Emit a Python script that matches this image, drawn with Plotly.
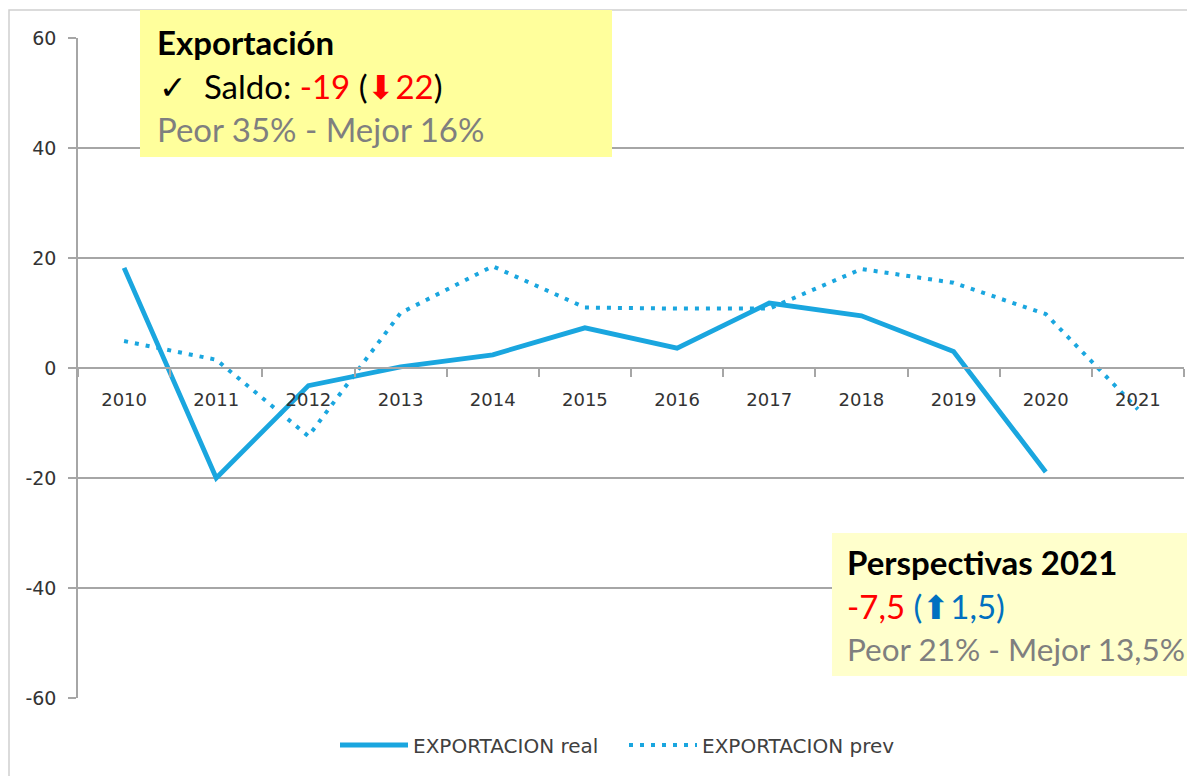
import plotly.graph_objects as go

years = ["2010", "2011", "2012", "2013", "2014", "2015", "2016", "2017", "2018", "2019", "2020", "2021"]
real = [18.2, -20.0, -3.2, 0.2, 2.4, 7.3, 3.6, 11.8, 9.5, 3.0, -18.9, None]
prev = [4.9, 1.5, -12.4, 10.0, 18.5, 11.0, 10.8, 10.8, 18.0, 15.5, 9.8, -7.5]
yticks = [-60, -40, -20, 0, 20, 40, 60]
ytick_text = ["-60", "-40", "-20", "0", "20", "40", "60"]

# page offset (body margin) and figure geometry
OFF = 8
W, H = 1195, 776
L, T = 70, 30
PR, PB = 1176, 690          # plot right / bottom in figure pixels
R, B = W - PR, H - PB
PW, PH = PR - L, PB - T

def px(x):
    return (x - OFF - L) / PW

def py(y):
    return (PB - (y - OFF)) / PH

BLUE = "#1aa6df"
GRID = "#a6a6a6"
X_FONT = dict(family="DejaVu Sans", size=18, color="#333333")
Y_FONT = dict(family="DejaVu Sans", size=19, color="#333333")
BOX_FONT = "Lato"

fig = go.Figure()
fig.add_trace(go.Scatter(x=years, y=real, mode="lines", name="EXPORTACION real",
                         line=dict(color=BLUE, width=4.8)))
fig.add_trace(go.Scatter(x=years, y=prev, mode="lines", name="EXPORTACION prev",
                         line=dict(color=BLUE, width=4, dash="4px,7px")))

shapes = [
    dict(type="rect", xref="paper", yref="paper", x0=px(9), x1=px(1230), y0=py(10), y1=py(800),
         line=dict(color="#cfcfcf", width=1.5), fillcolor="rgba(0,0,0,0)", layer="below"),
    dict(type="rect", xref="paper", yref="paper", x0=px(140), x1=px(612), y0=py(10), y1=py(157),
         line=dict(width=0), fillcolor="#ffff9c", layer="above"),
    dict(type="rect", xref="paper", yref="paper", x0=px(832), x1=px(1230), y0=py(533), y1=py(676),
         line=dict(width=0), fillcolor="#ffffcc", layer="above"),
]

def note(x, y, text, size, color="black"):
    return dict(xref="paper", yref="paper", x=px(x), y=py(y), text=text, showarrow=False,
                xanchor="left", yanchor="middle", align="left",
                font=dict(family=BOX_FONT, size=size, color=color))

RED = "#ff0000"
DBLUE = "#0070c0"
GRAY = "#7f7f7f"
FS = 33
annotations = [
    note(155, 42, "<b>Exportación</b>", FS),
    note(157, 86, "✓  Saldo: <span style='color:%s'>-19</span> (<span style='color:%s'>⬇22</span>)" % (RED, RED), FS),
    note(155, 129, "Peor 35% - Mejor 16%", FS, GRAY),
    note(845, 562, "<b>Perspectivas 2021</b>", FS),
    note(845, 606, "<span style='color:%s'>-7,5</span> <span style='color:%s'>(⬆1,5)</span>" % (RED, DBLUE), FS),
    note(845, 649, "Peor 21% - Mejor 13,5%", 31.5, GRAY),
]

fig.update_layout(
    width=W, height=H,
    margin=dict(l=L, r=R, t=T, b=B),
    paper_bgcolor="white", plot_bgcolor="white",
    shapes=shapes, annotations=annotations,
    showlegend=True,
    legend=dict(orientation="h", x=px(624), xanchor="center", y=py(745), yanchor="middle",
                font=dict(family="DejaVu Sans", size=20, color="#404040"),
                itemwidth=68, entrywidth=206,
                bgcolor="rgba(0,0,0,0)"),
    xaxis=dict(type="category", categoryorder="array", categoryarray=years,
               anchor="free", position=0.5, showline=True, linecolor=GRID, linewidth=1.5,
               ticks="outside", tickson="boundaries", ticklen=8, tickcolor=GRID, tickwidth=1.5,
               showgrid=False, zeroline=False, tickfont=X_FONT, ticklabelstandoff=16,
               range=[-0.5, 11.5]),
    yaxis=dict(range=[-60, 60], tickvals=yticks, ticktext=ytick_text, showgrid=True,
               gridcolor=GRID, gridwidth=1.5,
               showline=True, linecolor=GRID, linewidth=1.5, ticks="outside", ticklen=8,
               tickcolor=GRID, tickwidth=1.5, zeroline=False, tickfont=Y_FONT,
               ticklabelstandoff=8),
)

fig.write_html("out.html")
